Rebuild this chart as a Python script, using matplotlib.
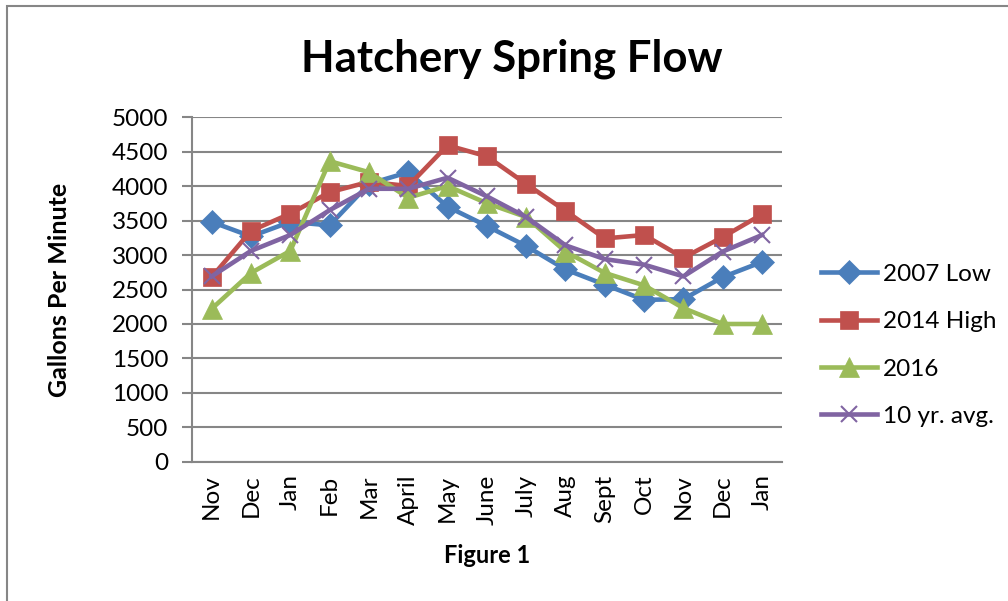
"""Hatchery spring flow, Nov through the following Jan, four series."""
import matplotlib
matplotlib.use("Agg")
import matplotlib.pyplot as plt
from matplotlib.patches import Rectangle

plt.rcParams["font.family"] = ["Lato", "DejaVu Sans"]

months = ["Nov", "Dec", "Jan", "Feb", "Mar", "April", "May", "June", "July",
          "Aug", "Sept", "Oct", "Nov", "Dec", "Jan"]

low_2007 = [3480, 3270, 3480, 3430, 4030, 4200, 3700, 3420, 3130,
            2790, 2570, 2350, 2360, 2680, 2900]
high_2014 = [2680, 3350, 3600, 3910, 4060, 4000, 4590, 4430, 4030,
             3640, 3240, 3290, 2960, 3260, 3590]
flow_2016 = [2220, 2740, 3060, 4360, 4200, 3830, 4000, 3750, 3550,
             3050, 2740, 2560, 2230, 2000, 2000]
avg_10yr = [2690, 3060, 3290, 3650, 3960, 3960, 4120, 3850, 3550,
            3140, 2940, 2860, 2690, 3050, 3290]

series = [("2007 Low", low_2007, "#4A7EBB", "D", 12),
          ("2014 High", high_2014, "#C0504D", "s", 13.5),
          ("2016", flow_2016, "#9BBB59", "^", 14),
          ("10 yr. avg.", avg_10yr, "#8064A2", "x", 12)]

fig = plt.figure(figsize=(10.08, 6.01), dpi=100)
ax = fig.add_axes([0.1905, 0.2313, 0.585, 0.574])

x = range(len(months))
for label, vals, color, mk, ms in series:
    ax.plot(x, vals, color=color, linewidth=3.3, marker=mk, markersize=ms,
            markeredgewidth=1.5 if mk == "x" else 0.5,
            markeredgecolor=color, label=label)

ax.set_xlim(-0.5, len(months) - 0.5)
ax.set_ylim(0, 5000)
ax.set_yticks(range(0, 5001, 500))
ax.set_xticks(list(x))
ax.set_xticklabels(months, rotation=90, fontsize=17.5)
ax.tick_params(axis="y", labelsize=17.5, length=7, width=1.5, color="#868686", pad=10)
ax.tick_params(axis="x", length=0, pad=9)
ax.grid(axis="y", color="#868686", linewidth=1.5)
ax.set_axisbelow(True)
for side in ("top", "right"):
    ax.spines[side].set_visible(False)
for side in ("left", "bottom"):
    ax.spines[side].set_color("#868686")
    ax.spines[side].set_linewidth(1.5)

ax.set_ylabel("Gallons Per Minute", fontsize=18, fontweight="bold", va="center")
ax.yaxis.set_label_coords(-0.224, 0.5)
ax.set_xlabel("Figure 1", fontsize=17, fontweight="bold", va="center")
ax.xaxis.set_label_coords(0.5, -0.272)

fig.text(0.508, 0.903, "Hatchery Spring Flow", ha="center", va="center",
         fontsize=31.5, fontweight="bold")

ax.legend(loc="center left", bbox_to_anchor=(1.03, 0.338), frameon=False,
          fontsize=17.5, handlelength=2.3, labelspacing=1.08, handletextpad=0.25)

# chart-area border, cut off at right and bottom like the screenshot
fig.patches.append(Rectangle((7 / 1008, -0.1), 1.2, 1 - 6 / 601 + 0.1,
                             transform=fig.transFigure, fill=False,
                             edgecolor="#868686", linewidth=1.5))

fig.savefig("out.png", dpi=100)
